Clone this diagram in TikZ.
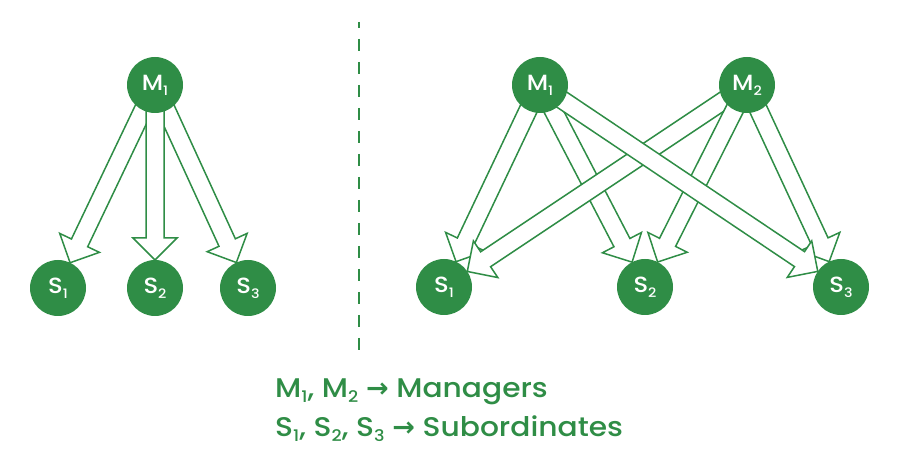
\documentclass[tikz,border=0pt]{standalone}
\usepackage{fontspec}
\setmainfont{Poppins}[UprightFont={* Medium}, FakeStretch=1.1]
\newfontfamily\arrowfont{DejaVu Sans}
\usetikzlibrary{calc}

\definecolor{gfg}{RGB}{47,141,70}
\newcommand{\sub}[2]{\raisebox{-0.4ex}{\fontsize{#1}{#1}\selectfont #2}}
\newcommand{\hollowarrow}[2]{%
\draw [hollow] let \p1=(#1), \p2=($(#2)!28pt!(#1)$),
  \n1={atan2(\y2-\y1,\x2-\x1)}, \n2={veclen(\x2-\x1,\y2-\y1)} in
  [shift={(\p1)}, rotate=\n1] (0,-9)--({\n2-22},-9)--({\n2-22},-22)--(\n2,0)
  --({\n2-22},22)--({\n2-22},9)--(0,9)--cycle;}

\tikzset{
  person/.style={circle, fill=gfg, minimum size=56pt, inner sep=0pt, text=white,
    font=\fontsize{22}{22}\selectfont},
  hollow/.style={draw=gfg, fill=white, line width=1.5pt, line join=miter},
  legend/.style={anchor=base west, text=gfg, inner sep=0pt,
    font=\fontsize{27}{27}\selectfont}
}

\begin{document}
\begin{tikzpicture}[x=1pt,y=-1pt]
\useasboundingbox (0,0) rectangle (900,470);

% one manager
\coordinate (lm) at (155,85);
\coordinate (ls1) at (58,288);
\coordinate (ls2) at (155,288);
\coordinate (ls3) at (248,288);
\hollowarrow{lm}{ls1}
\hollowarrow{lm}{ls3}
\hollowarrow{lm}{ls2}
\node [person] (lM1) at (lm) {M\sub{13}{1}};
\node [person] (lS1) at (ls1) {S\sub{13}{1}};
\node [person] (lS2) at (ls2) {S\sub{13}{2}};
\node [person] (lS3) at (ls3) {S\sub{13}{3}};

% divider
\coordinate (top) at (358.5,22);
\coordinate (bot) at (358.5,351);
\draw [gfg, line width=2pt, dash pattern=on 12pt off 11pt, dash phase=6pt] (top)--(bot);

% two managers
\coordinate (rm1) at (540,85);
\coordinate (rm2) at (747,85);
\coordinate (rs1) at (444,287);
\coordinate (rs2) at (645,287);
\coordinate (rs3) at (841,287);
\hollowarrow{rm1}{rs1}
\hollowarrow{rm1}{rs2}
\hollowarrow{rm2}{rs1}
\hollowarrow{rm2}{rs2}
\hollowarrow{rm2}{rs3}
\hollowarrow{rm1}{rs3}
\node [person] (rM1) at (rm1) {M\sub{13}{1}};
\node [person] (rM2) at (rm2) {M\sub{13}{2}};
\node [person] (rS1) at (rs1) {S\sub{13}{1}};
\node [person] (rS2) at (rs2) {S\sub{13}{2}};
\node [person] (rS3) at (rs3) {S\sub{13}{3}};

% legend
\node [legend] (mgr) at (275,397) {M\sub{16}{1}, M\sub{16}{2} {\arrowfont\bfseries →} Managers};
\node [legend] (sub) at (275,436) {S\sub{16}{1}, S\sub{16}{2}, S\sub{16}{3} {\arrowfont\bfseries →} Subordinates};
\end{tikzpicture}
\end{document}
